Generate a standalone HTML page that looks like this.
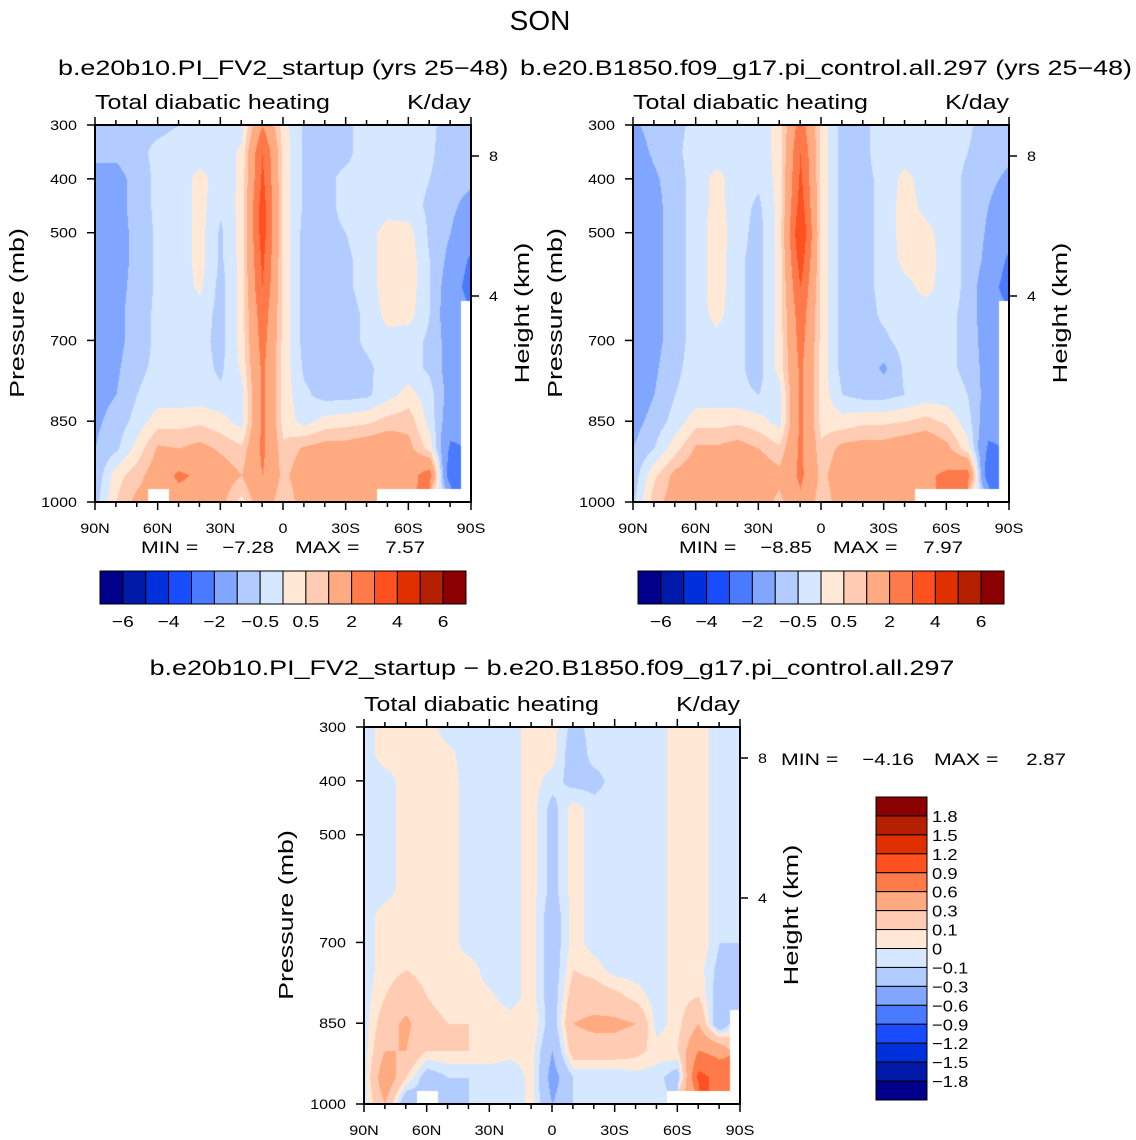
<!DOCTYPE html>
<html><head><meta charset="utf-8">
<style>
html,body{margin:0;padding:0;background:#fff;}
#wrap{position:relative;width:1136px;height:1140px;overflow:hidden;font-family:"Liberation Sans","DejaVu Sans",sans-serif;}
canvas{position:absolute;left:0;top:0;}
svg{position:absolute;left:0;top:0;}
</style></head>
<body>
<div id="wrap">
<canvas id="cv" width="1136" height="1140"></canvas>
<svg id="sv" width="1136" height="1140" xmlns="http://www.w3.org/2000/svg"></svg>
</div>
<script>
const N = NaN;
const lats = [90,80,70,60,50,40,30,20,10,0,-10,-20,-30,-40,-50,-60,-70,-80,-90];
const pres = [300,350,400,450,500,550,600,650,700,750,800,850,900,950,1000];
const levelsFull = [-6,-5,-4,-3,-2,-1,-0.5,0,0.5,1,2,3,4,5,6];
const levelsDiff = [-1.8,-1.5,-1.2,-0.9,-0.6,-0.3,-0.1,0,0.1,0.3,0.6,0.9,1.2,1.5,1.8];
const colors = ['#00008a','#0019a8','#0030dc','#1a4cff','#4a7aff','#80a6ff','#b3ccff','#d6e8ff','#ffe8d6','#ffccb3','#ffaa80','#ff7a4a','#ff5020','#e03000','#b52000','#8b0000'];
const fullTicks = ['−6','−4','−2','−0.5','0.5','2','4','6'];
const diffTicks = ['1.8','1.5','1.2','0.9','0.6','0.3','0.1','0','−0.1','−0.3','−0.6','−0.9','−1.2','−1.5','−1.8'];
const latTicks = ['90N','60N','30N','0','30S','60S','90S'];
const presTicks = [300,400,500,700,850,1000];
const hgtTicks = [8,4];
const stats1 = ['−7.28','7.57'];
const stats2 = ['−8.85','7.97'];
const stats3 = ['−4.16','2.87'];

const grid1 = [
[-0.7,-0.7,-0.6,-0.6,-0.5,-0.3,-0.3,-0.2,2.0,0.2,-0.6,-0.6,-0.6,-0.3,-0.3,-0.3,-0.4,-0.7,-0.7],
[-0.8,-0.8,-0.6,-0.4,-0.3,-0.3,-0.3,0.1,3.0,0.3,-0.6,-0.6,-0.6,-0.3,-0.3,-0.3,-0.4,-0.8,-0.8],
[-1.3,-1.3,-0.7,-0.4,-0.3,0.2,-0.3,0.1,3.2,0.3,-0.6,-0.6,-0.4,-0.3,-0.3,-0.3,-0.5,-0.8,-0.9],
[-1.3,-1.3,-0.7,-0.4,-0.3,0.2,-0.4,0.2,3.5,0.3,-0.6,-0.6,-0.4,-0.3,-0.2,-0.3,-0.6,-0.9,-1.2],
[-1.3,-1.3,-0.8,-0.4,-0.3,0.2,-0.6,0.2,3.5,0.3,-0.7,-0.6,-0.5,-0.2,0.2,0.2,-0.6,-1.0,-1.4],
[-1.3,-1.3,-0.8,-0.4,-0.3,0.2,-0.6,0.2,3.2,0.3,-0.7,-0.7,-0.6,-0.3,0.3,0.3,-0.5,-1.2,-2.2],
[-1.3,-1.2,-0.8,-0.4,-0.3,0.1,-0.7,0.2,3.0,0.3,-0.7,-0.7,-0.6,-0.3,0.3,0.3,-0.5,-1.4,-2.5],
[-1.3,-1.2,-0.7,-0.4,-0.3,-0.2,-0.7,0.2,2.6,0.3,-0.7,-0.7,-0.7,-0.4,0.2,0.2,-0.5,-1.5,N],
[-1.3,-1.2,-0.7,-0.4,-0.3,-0.3,-0.7,0.2,2.4,0.3,-0.7,-0.7,-0.7,-0.4,-0.2,-0.3,-0.6,-1.3,N],
[-1.3,-1.1,-0.6,-0.4,-0.3,-0.3,-0.6,0.1,2.2,0.3,-0.6,-0.7,-0.7,-0.6,-0.3,-0.3,-0.6,-1.3,N],
[-1.2,-1.0,-0.5,-0.3,-0.3,-0.3,-0.4,-0.2,2.2,0.3,-0.4,-0.7,-0.7,-0.6,-0.2,0.2,-0.3,-1.3,N],
[-1.1,-0.8,-0.3,0.3,0.3,0.4,0.2,-0.2,2.2,0.3,-0.2,0.2,0.3,0.4,0.7,0.8,-0.2,-1.5,N],
[-1.0,-0.6,0.2,1.1,1.0,1.2,0.9,0.6,2.2,0.6,1.1,1.3,1.3,1.5,1.6,1.2,0.3,-2.2,N],
[-0.9,0.3,0.8,1.4,2.2,1.8,1.4,1.0,2.0,0.8,1.5,1.6,1.6,1.7,1.8,1.6,2.5,-3,N],
[-0.7,0.5,1.2,N,1.5,1.5,1.2,0.3,1.6,0.5,1.4,1.5,1.5,1.5,N,N,N,N,N]];

const grid2 = [
[-1.1,-0.8,-0.6,-0.4,-0.3,-0.3,-0.3,0.2,2.5,0.3,-0.7,-0.6,-0.3,-0.3,-0.3,-0.3,-0.4,-0.8,-0.8],
[-1.3,-0.9,-0.6,-0.3,-0.3,-0.3,-0.3,0.2,3.0,0.3,-0.7,-0.6,-0.3,-0.3,-0.3,-0.3,-0.5,-0.8,-0.9],
[-1.5,-1.1,-0.7,-0.3,0.2,-0.3,-0.4,0.2,3.2,0.3,-0.7,-0.6,-0.4,0.2,-0.3,-0.3,-0.6,-0.9,-1.1],
[-1.6,-1.2,-0.7,-0.3,0.2,-0.3,-0.6,0.2,3.5,0.3,-0.7,-0.6,-0.4,0.3,-0.2,-0.3,-0.6,-1.0,-1.3],
[-1.6,-1.2,-0.7,-0.3,0.3,-0.3,-0.7,0.2,4.0,0.3,-0.7,-0.6,-0.4,0.3,0.2,-0.3,-0.6,-1.1,-1.6],
[-1.6,-1.2,-0.7,-0.3,0.3,-0.4,-0.7,0.2,3.5,0.3,-0.7,-0.6,-0.4,0.2,0.3,-0.3,-0.6,-1.2,-2.2],
[-1.6,-1.2,-0.7,-0.3,0.3,-0.4,-0.7,0.2,3.0,0.3,-0.7,-0.6,-0.4,-0.2,0.2,-0.3,-0.6,-1.5,-2.5],
[-1.6,-1.2,-0.7,-0.3,0.2,-0.4,-0.7,0.2,2.6,0.3,-0.7,-0.7,-0.4,-0.3,-0.3,-0.4,-0.6,-1.5,N],
[-1.6,-1.2,-0.7,-0.3,-0.2,-0.4,-0.7,0.2,2.4,0.3,-0.7,-0.7,-0.6,-0.3,-0.3,-0.4,-0.6,-1.4,N],
[-1.5,-1.1,-0.6,-0.3,-0.2,-0.4,-0.7,0.2,2.2,0.3,-0.7,-0.7,-1.1,-0.4,-0.3,-0.4,-0.6,-1.3,N],
[-1.4,-1.0,-0.5,-0.3,-0.3,-0.4,-0.5,-0.2,2.2,0.3,-0.5,-0.7,-0.7,-0.5,-0.3,-0.3,-0.5,-1.3,N],
[-1.2,-0.8,-0.3,0.3,0.3,0.4,0.2,-0.2,2.2,0.3,0.2,0.4,0.4,0.5,0.7,0.4,-0.3,-1.5,N],
[-1.0,-0.5,0.3,1.1,1.1,1.3,1.0,0.6,2.2,0.6,1.2,1.3,1.3,1.5,1.6,1.2,0.2,-2.2,N],
[-0.8,0.4,1.2,1.5,2.0,1.8,1.5,1.2,2.2,0.8,1.5,1.5,1.5,1.7,1.8,2.2,2.5,-3,N],
[-0.6,0.8,1.3,1.5,1.5,1.5,1.4,0.8,1.8,0.6,1.4,1.5,1.5,1.5,N,N,N,N,N]];

const grid3 = [
[-0.05,0.05,0.05,0.05,-0.05,-0.05,-0.05,-0.05,0.05,0.05,-0.15,-0.05,-0.05,-0.05,-0.05,0.05,0.05,-0.05,-0.05],
[-0.05,0.05,0.05,0.05,0.03,-0.05,-0.05,-0.05,0.05,0.05,-0.2,-0.05,-0.05,-0.05,-0.05,0.05,0.05,-0.05,-0.05],
[-0.05,-0.05,0.05,0.05,0.05,-0.05,-0.05,-0.05,0.05,-0.05,-0.15,-0.15,-0.05,-0.05,-0.05,0.05,0.05,-0.05,-0.05],
[-0.05,-0.05,0.05,0.05,0.05,-0.05,-0.05,-0.05,0.05,-0.15,0.05,-0.05,-0.05,-0.05,-0.05,0.05,0.05,-0.05,-0.05],
[-0.05,-0.05,0.05,0.05,0.05,-0.05,-0.05,-0.05,0.05,-0.15,0.05,-0.05,-0.05,-0.05,-0.05,0.05,0.05,-0.05,-0.05],
[-0.05,-0.05,0.05,0.05,0.05,-0.05,-0.05,-0.05,0.05,-0.15,0.05,-0.05,-0.05,-0.05,-0.05,0.05,0.05,-0.05,-0.05],
[-0.05,-0.05,0.05,0.05,0.05,-0.05,-0.05,-0.05,0.05,-0.15,0.05,-0.05,-0.05,-0.05,-0.05,0.05,0.05,-0.05,-0.05],
[-0.05,0.05,0.05,0.05,0.05,-0.05,-0.05,-0.05,0.05,-0.2,0.05,-0.05,-0.05,-0.05,-0.05,0.05,0.05,-0.05,-0.05],
[-0.05,0.05,0.05,0.05,0.05,-0.05,-0.05,-0.05,0.05,-0.2,0.05,-0.05,-0.05,-0.05,-0.05,0.05,0.1,-0.1,-0.1],
[-0.05,0.05,0.1,0.05,0.05,0.05,-0.05,-0.05,0.05,-0.2,0.1,0.05,-0.05,-0.05,-0.05,0.05,0.05,-0.15,-0.1],
[-0.05,0.1,0.2,0.1,0.05,0.05,0.02,-0.05,0.05,-0.2,0.2,0.2,0.15,0.05,-0.05,0.05,0.1,-0.2,-0.1],
[-0.05,0.2,0.35,0.15,0.1,0.1,0.05,0.05,0.1,-0.2,0.3,0.35,0.35,0.3,-0.05,0.05,0.3,-0.3,N],
[-0.05,0.3,0.3,0.1,0.1,0.1,0.1,0.05,0.05,-0.3,0.2,0.2,0.2,0.15,0.05,0.1,0.6,0.5,N],
[-0.05,0.5,0.1,-0.2,-0.1,-0.1,-0.1,-0.1,0.05,-0.4,-0.1,-0.1,-0.1,-0.05,-0.05,-0.2,1.0,0.8,N],
[-0.05,0.3,-0.3,N,-0.2,-0.1,-0.1,-0.1,0.05,-0.3,-0.1,-0.1,-0.1,-0.05,-0.05,N,N,N,N]];

const W=376,H=377;
const panels=[{x:95,y:125,g:grid1,lv:levelsFull},{x:633,y:125,g:grid2,lv:levelsFull},{x:364,y:727,g:grid3,lv:levelsDiff}];
function xScale(P,lat){return P.x+(90-lat)/180*W;}
function yScale(P,p){return P.y+(p-300)/700*H;}
function hexRGB(h){return [parseInt(h.substr(1,2),16),parseInt(h.substr(3,2),16),parseInt(h.substr(5,2),16)];}
const rgb=colors.map(hexRGB);
function colorIdx(v,lv){let i=0;while(i<lv.length&&v>=lv[i])i++;return i;}

const ctx=document.getElementById('cv').getContext('2d');
panels.forEach(P=>{
  const img=ctx.createImageData(W,H);
  for(let py=0;py<H;py++){
    const p=300+py/H*700;
    let fj=(p-pres[0])/(pres[1]-pres[0]);
    let j=Math.min(Math.floor(fj),pres.length-2), ty=fj-j;
    for(let px=0;px<W;px++){
      const lat=90-px/W*180;
      let fi=(90-lat)/10;
      let i=Math.min(Math.floor(fi),lats.length-2), tx=fi-i;
      const g=P.g;
      const near=g[Math.round(fj)][Math.round(fi)];
      const k=(py*W+px)*4;
      if(isNaN(near)){img.data[k]=255;img.data[k+1]=255;img.data[k+2]=255;img.data[k+3]=255;continue;}
      let a=g[j][i],b=g[j][i+1],c=g[j+1][i],d=g[j+1][i+1];
      const vals=[a,b,c,d].filter(v=>!isNaN(v));
      const m=vals.reduce((s,v)=>s+v,0)/vals.length;
      if(isNaN(a))a=m;if(isNaN(b))b=m;if(isNaN(c))c=m;if(isNaN(d))d=m;
      const v=(a*(1-tx)+b*tx)*(1-ty)+(c*(1-tx)+d*tx)*ty;
      const col=rgb[colorIdx(v,P.lv)];
      img.data[k]=col[0];img.data[k+1]=col[1];img.data[k+2]=col[2];img.data[k+3]=255;
    }
  }
  ctx.putImageData(img,P.x,P.y);
});

const NS='http://www.w3.org/2000/svg';
const sv=document.getElementById('sv');
function el(tag,attrs,txt){const e=document.createElementNS(NS,tag);for(const k in attrs)e.setAttribute(k,attrs[k]);if(txt!==undefined)e.textContent=txt;sv.appendChild(e);return e;}
function text(x,y,s,size,anchor,name,extra,k){const e=el('text',Object.assign({x:x,y:y,'font-size':size,'text-anchor':anchor||'start',fill:'#000','font-family':'"Liberation Sans","DejaVu Sans",sans-serif'},extra||{}),s);


const f=k||1.15;
try{const w=e.getComputedTextLength();if(w>0){e.setAttribute('textLength',(w*f).toFixed(1));e.setAttribute('lengthAdjust','spacingAndGlyphs');}}catch(err){}
return e;}

text(540,30,'SON',28,'middle','figure-title',null,1.0);
text(58,75,'b.e20b10.PI_FV2_startup (yrs 25−48)',21,'start','panel1-title',null,1.28);
text(1132,75,'b.e20.B1850.f09_g17.pi_control.all.297 (yrs 25−48)',21,'end','panel2-title',null,1.28);
text(552,675,'b.e20b10.PI_FV2_startup − b.e20.B1850.f09_g17.pi_control.all.297',21,'middle','panel3-title',null,1.28);

const hgtY=[[8,156-125],[4,296-125]];
panels.forEach((P,n)=>{
  const pn='panel'+(n+1);
  text(P.x,P.y-16,'Total diabatic heating',20,'start',pn+'-variable-label',null,1.25);
  text(P.x+W,P.y-16,'K/day',20,'end',pn+'-units-label',null,1.25);
  const r=el('rect',{x:P.x,y:P.y,width:W,height:H,fill:'none',stroke:'#000','stroke-width':2});
  
  
  for(let lat=90;lat>=-90;lat-=10){
    const x=xScale(P,lat);const major=lat%30===0;const len=major?8:5;
    const t1=el('line',{x1:x,y1:P.y+H,x2:x,y2:P.y+H+len,stroke:'#000','stroke-width':1.5});
    
    
    const t2=el('line',{x1:x,y1:P.y,x2:x,y2:P.y-len,stroke:'#000','stroke-width':1.5});
    
    
  }
  latTicks.forEach((s,i)=>text(xScale(P,90-30*i),P.y+H+31,s,14,'middle',pn+'-x-tick-label'));
  presTicks.forEach(p=>{
    const y=yScale(P,p);
    const t=el('line',{x1:P.x-8,y1:y,x2:P.x,y2:y,stroke:'#000','stroke-width':1.5});
    
    
    text(P.x-18,y+5,String(p),14,'end',pn+'-y-tick-label');
  });
  hgtTicks.forEach((h,i)=>{
    const y=P.y+hgtY[i][1];
    const t=el('line',{x1:P.x+W,y1:y,x2:P.x+W+8,y2:y,stroke:'#000','stroke-width':1.5});
    
    
    text(P.x+W+18,y+5,String(h),14,'start',pn+'-right-tick-label');
  });
  const cy=P.y+188;
  text(P.x-71,cy,'Pressure (mb)',20,'middle',pn+'-y-axis-title',{transform:`rotate(-90 ${P.x-71} ${cy})`},1.34);
  text(P.x+W+58,cy,'Height (km)',20,'middle',pn+'-right-axis-title',{transform:`rotate(-90 ${P.x+W+58} ${cy})`},1.36);
});

const statsAll=[stats1,stats2];
[0,1].forEach(n=>{
  const P=panels[n];
  text(P.x+46,553,'MIN =',17,'start','panel'+(n+1)+'-min-label',null,1.25);
  text(P.x+179,553,statsAll[n][0],17,'end','panel'+(n+1)+'-min-value',null,1.2);
  text(P.x+200,553,'MAX =',17,'start','panel'+(n+1)+'-max-label',null,1.25);
  text(P.x+330,553,statsAll[n][1],17,'end','panel'+(n+1)+'-max-value',null,1.2);
  const bx=P.x+5,bw=366/16;
  colors.forEach((c,i)=>{
    const r=el('rect',{x:bx+i*bw,y:571,width:bw,height:33,fill:c,stroke:'#000','stroke-width':1});
    
    
  });
  fullTicks.forEach((s,i)=>text(bx+(1+2*i)*bw,627,s,16,'middle','colorbar-label',null,1.2));
});
text(781,765,'MIN =',17,'start','panel3-min-label',null,1.25);
text(914,765,stats3[0],17,'end','panel3-min-value',null,1.2);
text(934,765,'MAX =',17,'start','panel3-max-label',null,1.25);
text(1066,765,stats3[1],17,'end','panel3-max-value',null,1.2);
const vbh=(1100-797)/16;
colors.slice().reverse().forEach((c,i)=>{
  const r=el('rect',{x:876,y:797+i*vbh,width:51,height:vbh,fill:c,stroke:'#000','stroke-width':1});
  
  
});
diffTicks.forEach((s,i)=>text(932,797+(i+1)*vbh+6,s,16,'start','diff-colorbar-label',null,1.15));
</script>
</body></html>
